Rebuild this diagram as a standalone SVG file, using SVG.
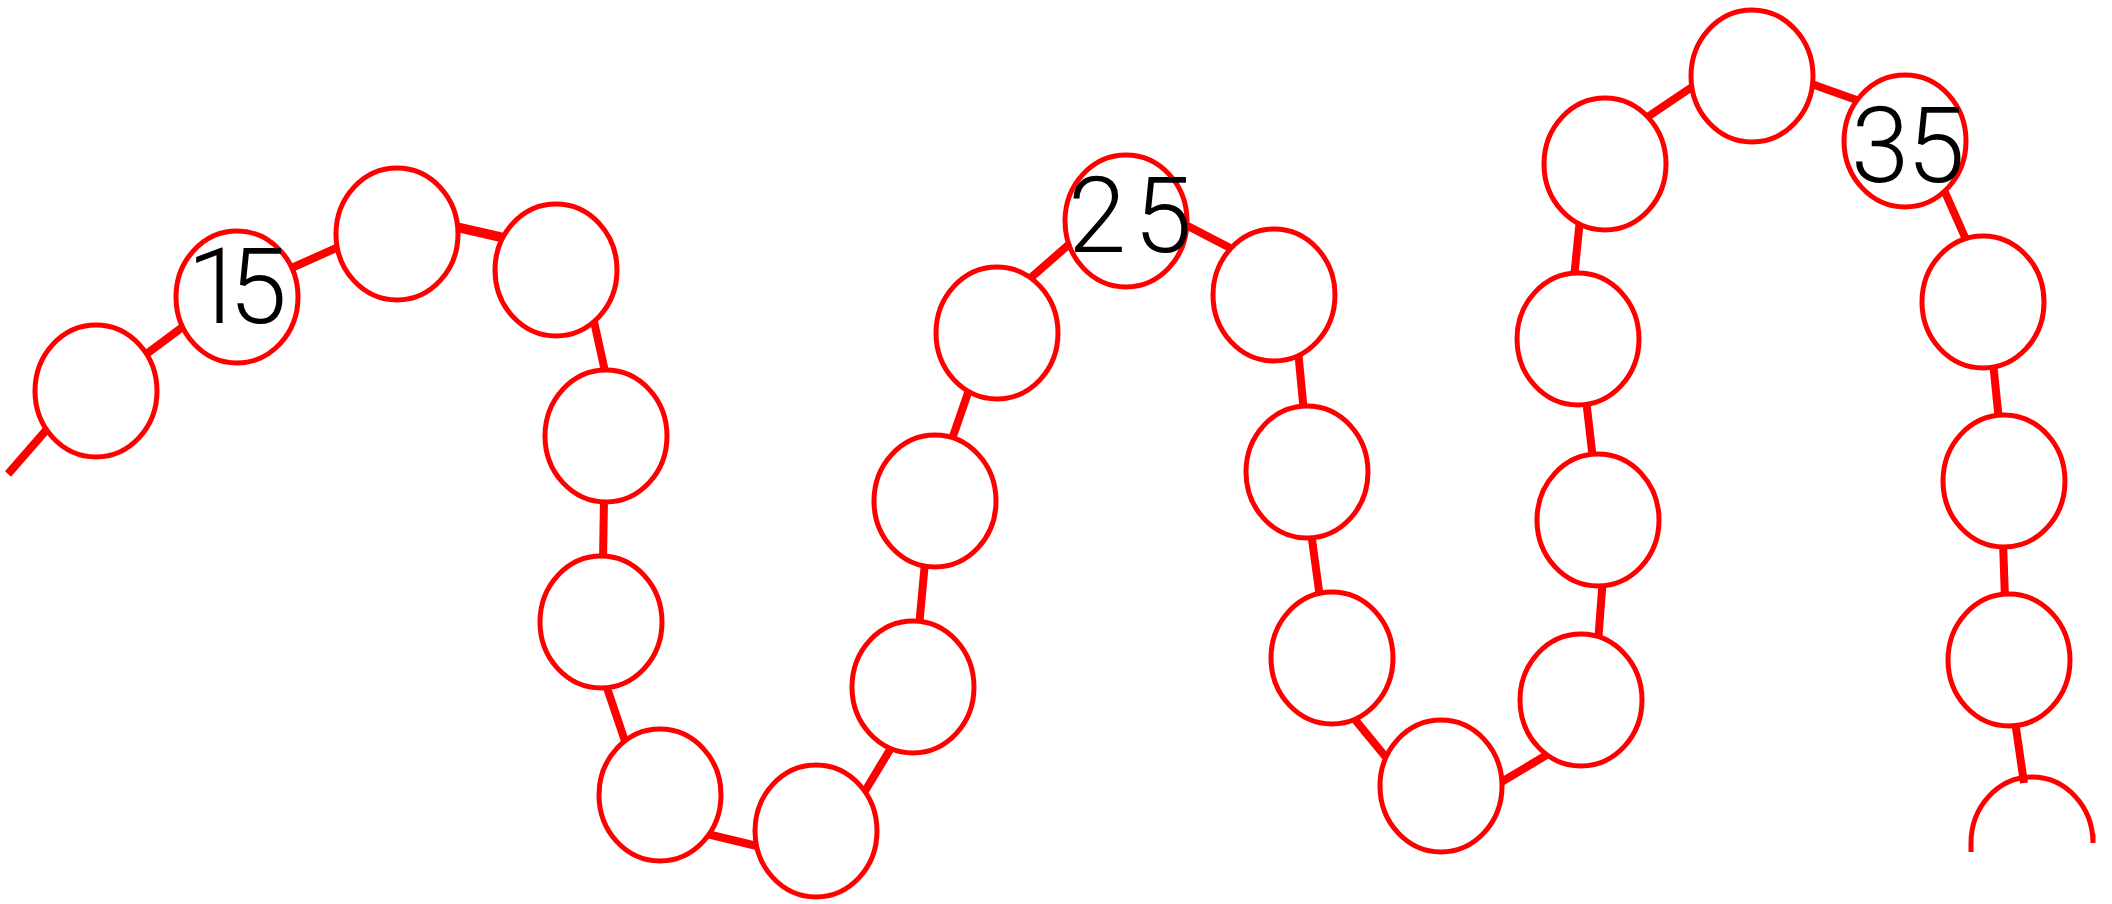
<svg xmlns="http://www.w3.org/2000/svg" width="2112" height="904" viewBox="0 0 2112 904">
<style>
.bead{fill:#ffffff;stroke:#ff0000;stroke-width:5}
.arc{fill:none;stroke:#ff0000;stroke-width:5}
.str{stroke:#ff0000;stroke-width:8;fill:none;stroke-linecap:butt}
.num{font-family:Roboto,"Liberation Sans",sans-serif;font-weight:300;font-size:105px;fill:#000000;text-anchor:middle}
</style>
<defs>
<path id="ov" d="M -61 0 C -61 -36.45 -33.69 -66 0 -66 C 33.69 -66 61 -36.45 61 0 C 61 36.45 33.69 66 0 66 C -33.69 66 -61 36.45 -61 0 Z"/>
</defs>
<rect width="2112" height="904" fill="#ffffff"/>
<g id="connectors">
<line class="str" x1="8" y1="474" x2="55" y2="420"/>
<line class="str" x1="141" y1="358" x2="188" y2="323"/>
<line class="str" x1="287" y1="270" x2="343" y2="245"/>
<line class="str" x1="452" y1="226" x2="509" y2="239" style="stroke-width:9.5"/>
<line class="str" x1="593" y1="317" x2="606" y2="376"/>
<line class="str" x1="604" y1="497" x2="603" y2="562"/>
<line class="str" x1="605" y1="682" x2="627" y2="747"/>
<line class="str" x1="703" y1="833" x2="761" y2="847"/>
<line class="str" x1="862" y1="796" x2="894" y2="743"/>
<line class="str" x1="919" y1="627" x2="925" y2="562"/>
<line class="str" x1="950" y1="445" x2="970" y2="387"/>
<line class="str" x1="1026" y1="282" x2="1074" y2="240"/>
<line class="str" x1="1182" y1="223" x2="1236" y2="251"/>
<line class="str" x1="1298" y1="350" x2="1304" y2="413"/>
<line class="str" x1="1311" y1="532" x2="1320" y2="598"/>
<line class="str" x1="1352" y1="716" x2="1389" y2="761"/>
<line class="str" x1="1498" y1="784" x2="1550" y2="753"/>
<line class="str" x1="1598" y1="643" x2="1603" y2="577"/>
<line class="str" x1="1586" y1="399" x2="1593" y2="460"/>
<line class="str" x1="1574" y1="278" x2="1580" y2="219"/>
<line class="str" x1="1643" y1="120" x2="1698" y2="83"/>
<line class="str" x1="1806" y1="82" x2="1865" y2="103"/>
<line class="str" x1="1944" y1="190" x2="1968" y2="244"/>
<line class="str" x1="1993" y1="362" x2="1999" y2="421"/>
<line class="str" x1="2003" y1="541" x2="2005" y2="600"/>
<line class="str" x1="2015" y1="721" x2="2024" y2="783"/>
</g>
<g id="bead14"><use href="#ov" class="bead" x="96" y="391"/></g>
<g id="bead15"><use href="#ov" class="bead" x="237" y="297"/><text class="num" x="237" y="323" textLength="100" lengthAdjust="spacing">15</text></g>
<g id="bead16"><use href="#ov" class="bead" x="397" y="234"/></g>
<g id="bead17"><use href="#ov" class="bead" x="556" y="270"/></g>
<g id="bead18"><use href="#ov" class="bead" x="606" y="436"/></g>
<g id="bead19"><use href="#ov" class="bead" x="601" y="622"/></g>
<g id="bead20"><use href="#ov" class="bead" x="660" y="795"/></g>
<g id="bead21"><use href="#ov" class="bead" x="816" y="831"/></g>
<g id="bead22"><use href="#ov" class="bead" x="913" y="687"/></g>
<g id="bead23"><use href="#ov" class="bead" x="935" y="501"/></g>
<g id="bead24"><use href="#ov" class="bead" x="997" y="333"/></g>
<g id="bead25"><use href="#ov" class="bead" x="1126" y="221"/><text class="num" x="1130" y="252" textLength="124" lengthAdjust="spacing">25</text></g>
<g id="bead26"><use href="#ov" class="bead" x="1274" y="295"/></g>
<g id="bead27"><use href="#ov" class="bead" x="1307" y="472"/></g>
<g id="bead28"><use href="#ov" class="bead" x="1332" y="658"/></g>
<g id="bead29"><use href="#ov" class="bead" x="1441" y="786"/></g>
<g id="bead30"><use href="#ov" class="bead" x="1581" y="700"/></g>
<g id="bead31"><use href="#ov" class="bead" x="1598" y="520"/></g>
<g id="bead32"><use href="#ov" class="bead" x="1578" y="339"/></g>
<g id="bead33"><use href="#ov" class="bead" x="1605" y="164"/></g>
<g id="bead34"><use href="#ov" class="bead" x="1752" y="76"/></g>
<g id="bead35"><use href="#ov" class="bead" x="1905" y="141"/><text class="num" x="1908" y="182" textLength="114" lengthAdjust="spacing">35</text></g>
<g id="bead36"><use href="#ov" class="bead" x="1983" y="302"/></g>
<g id="bead37"><use href="#ov" class="bead" x="2004" y="481"/></g>
<g id="bead38"><use href="#ov" class="bead" x="2009" y="660"/></g>
<g id="bead39"><path class="arc" d="M 1971 852 L 1971 843 C 1971 806.55 1998.31 777 2032 777 C 2065.69 777 2093 806.55 2093 843 L 2093 834"/></g>
</svg>
